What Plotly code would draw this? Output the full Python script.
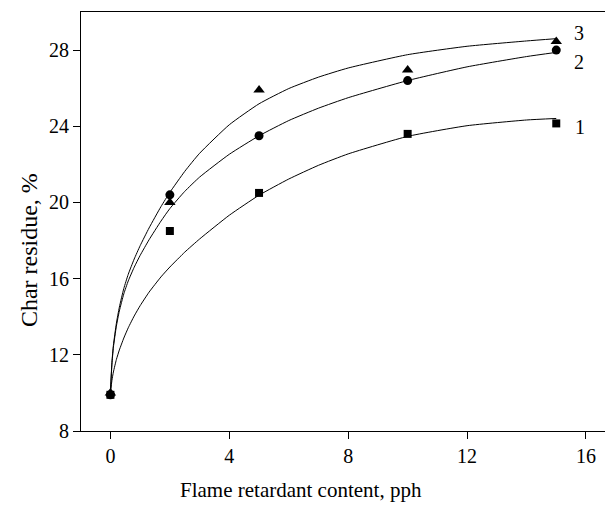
import plotly.graph_objects as go

# Measured points
x_pts = [0, 2, 5, 10, 15]
s1_y = [9.9, 18.5, 20.5, 23.6, 24.15]   # squares (1)
s2_y = [9.9, 20.4, 23.5, 26.4, 28.0]    # circles (2)
s3_y = [10.0, 20.0, 25.9, 26.95, 28.45] # triangles (3)

# Fitted curves
fit_x = [0, 0.05, 0.1, 0.2, 0.3, 0.45, 0.6, 0.8, 1.0, 1.3, 1.7, 2, 2.5, 3, 4, 5, 6, 7, 8, 10, 12, 14, 15]
fit1_y = [10.0, 10.65, 11.1, 11.75, 12.25, 12.88, 13.42, 14.04, 14.58, 15.29, 16.09, 16.61, 17.39, 18.08,
          19.33, 20.38, 21.23, 21.95, 22.55, 23.47, 24.03, 24.33, 24.41]
fit2_y = [10.0, 11.5, 12.4, 13.5, 14.3, 15.2, 15.88, 16.6, 17.22, 18.04, 19.02, 19.68, 20.58, 21.33,
          22.53, 23.5, 24.3, 24.95, 25.5, 26.4, 27.12, 27.66, 27.88]
fit3_y = [10.0, 11.6, 12.5, 13.65, 14.5, 15.48, 16.23, 17.03, 17.73, 18.66, 19.78, 20.53, 21.63, 22.58,
          24.08, 25.18, 25.98, 26.58, 27.06, 27.76, 28.2, 28.48, 28.6]

curve_labels = ["1", "2", "3"]
label_x = [15.55, 15.53, 15.53]
label_y = [23.97, 27.39, 28.88]

x_ticks = [0, 4, 8, 12, 16]
y_ticks = [8, 12, 16, 20, 24, 28]

FONT = "Liberation Serif, Times New Roman, serif"

fig = go.Figure()
for fy in (fit1_y, fit2_y, fit3_y):
    fig.add_trace(go.Scatter(x=fit_x, y=fy, mode="lines",
                             line=dict(color="black", width=1, shape="spline", smoothing=0.5),
                             hoverinfo="skip", showlegend=False))

fig.add_trace(go.Scatter(x=x_pts, y=s1_y, mode="markers",
                         marker=dict(symbol="square", size=8, color="black"), showlegend=False))
fig.add_trace(go.Scatter(x=x_pts, y=s2_y, mode="markers",
                         marker=dict(symbol="circle", size=9, color="black"), showlegend=False))
fig.add_trace(go.Scatter(x=x_pts, y=s3_y, mode="markers",
                         marker=dict(symbol="triangle-up", size=10, color="black"), showlegend=False))

for t, lx, ly in zip(curve_labels, label_x, label_y):
    fig.add_annotation(x=lx, y=ly, text=t, showarrow=False, xanchor="left", yanchor="middle",
                       font=dict(family=FONT, size=20, color="black"))

fig.add_annotation(x=0.42, y=-0.141, xref="paper", yref="paper", text="Flame retardant content, pph",
                   showarrow=False, xanchor="center", yanchor="middle",
                   font=dict(family=FONT, size=21, color="black"))
fig.add_annotation(x=-0.099, y=0.432, xref="paper", yref="paper", text="Char residue, %",
                   showarrow=False, xanchor="center", yanchor="middle", textangle=-90,
                   font=dict(family=FONT, size=24, color="black"))

fig.update_layout(
    width=605, height=512,
    margin=dict(l=81, r=0, t=12, b=81),
    paper_bgcolor="white", plot_bgcolor="white",
    font=dict(family=FONT, size=20, color="black"),
    xaxis=dict(range=[-0.99, 16.64], tickvals=x_ticks, ticks="outside", ticklen=7, tickwidth=1,
               tickcolor="black", showline=True, linecolor="black", linewidth=1, mirror=True,
               showgrid=False, zeroline=False),
    yaxis=dict(range=[8, 30], tickvals=y_ticks, ticks="outside", ticklen=7, tickwidth=1,
               tickcolor="black", showline=True, linecolor="black", linewidth=1, mirror=False,
               showgrid=False, zeroline=False),
)

fig.write_html("out.html")
